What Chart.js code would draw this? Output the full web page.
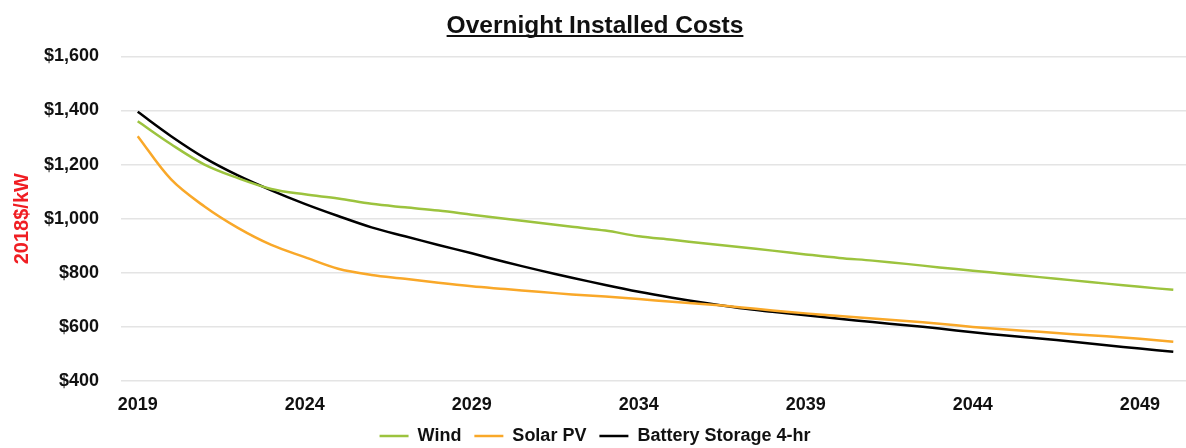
<!DOCTYPE html>
<html>
<head>
<meta charset="utf-8">
<title>Overnight Installed Costs</title>
<script src="https://cdn.jsdelivr.net/npm/chart.js@4.4.1/dist/chart.umd.min.js"></script>
<style>
  html, body { margin: 0; padding: 0; background: #fff; overflow: hidden; }
  #wrap { position: relative; width: 1190px; height: 455px; }
</style>
</head>
<body>
<div id="wrap"><canvas id="costs"></canvas></div>
<script>
// Years on the category axis
const years = [];
for (let y = 2019; y <= 2050; y++) years.push(String(y));

// Series values, 2018$/kW
const wind = [1360, 1275, 1200, 1150, 1110, 1090, 1075, 1055, 1042, 1030,
  1015, 1000, 985, 970, 956, 935, 922, 908, 895, 882,
  868, 855, 845, 833, 820, 808, 796, 784, 772, 760, 748, 737];
const solarPV = [1305, 1145, 1045, 966, 903, 858, 815, 792, 778, 763,
  750, 740, 730, 720, 712, 703, 693, 684, 673, 661,
  650, 640, 631, 622, 612, 600, 590, 582, 573, 565, 556, 545];
const battery = [1395, 1305, 1225, 1160, 1105, 1055, 1010, 968, 935, 903,
  872, 840, 810, 782, 755, 730, 708, 688, 670, 656,
  643, 630, 618, 606, 594, 580, 568, 557, 545, 532, 520, 508];

// Y axis ticks
const yTicks = [400, 600, 800, 1000, 1200, 1400, 1600];

const FONT = '"Liberation Sans", Arial, sans-serif';

// Draws the underline below the chart title
const titleUnderline = {
  id: 'titleUnderline',
  afterDraw(chart) {
    const tb = chart.titleBlock;
    if (!tb) return;
    const ctx = chart.ctx;
    const opts = chart.options.plugins.title;
    ctx.save();
    ctx.font = `bold ${opts.font.size}px ${FONT}`;
    const w = ctx.measureText(opts.text).width;
    const cx = (tb.left + tb.right) / 2;
    ctx.strokeStyle = '#111';
    ctx.lineWidth = 2;
    ctx.beginPath();
    ctx.moveTo(cx - w / 2, 36);
    ctx.lineTo(cx + w / 2, 36);
    ctx.stroke();
    ctx.restore();
  }
};

const makeSeries = (label, data, color) => ({
  label,
  data,
  borderColor: color,
  backgroundColor: color,
  borderWidth: 2.5,
  pointRadius: 0,
  tension: 0.35,
  fill: false
});

new Chart(document.getElementById('costs'), {
  type: 'line',
  data: {
    labels: years,
    datasets: [
      makeSeries('Wind', wind, '#9cc33e'),
      makeSeries('Solar PV', solarPV, '#f9a829'),
      makeSeries('Battery Storage 4-hr', battery, '#000000')
    ]
  },
  options: {
    responsive: true,
    maintainAspectRatio: false,
    animation: false,
    layout: { padding: 0 },
    plugins: {
      title: {
        display: true,
        text: 'Overnight Installed Costs',
        color: '#111',
        font: { family: FONT, size: 24.5, weight: 'bold' },
        padding: { top: 12, bottom: 15 }
      },
      legend: {
        position: 'bottom',
        labels: {
          usePointStyle: true,
          pointStyle: 'line',
          pointStyleWidth: 29,
          boxHeight: 18,
          padding: 13,
          color: '#111',
          font: { family: FONT, size: 18, weight: 'bold' }
        }
      },
      tooltip: { enabled: false }
    },
    scales: {
      x: {
        type: 'category',
        offset: true,
        grid: { display: false },
        border: { display: false },
        ticks: {
          autoSkip: false,
          maxRotation: 0,
          padding: 5,
          color: '#111',
          font: { family: FONT, size: 18, weight: 'bold' },
          callback(value, index) {
            return index % 5 === 0 ? years[index] : '';
          }
        },
        afterFit(scale) { scale.height = 33; }
      },
      y: {
        min: yTicks[0],
        max: yTicks[yTicks.length - 1],
        afterBuildTicks(scale) {
          scale.ticks = yTicks.map(v => ({ value: v }));
        },
        grid: { color: '#e4e4e4', lineWidth: 1.5, drawTicks: false },
        border: { display: false },
        ticks: {
          padding: 22,
          color: '#111',
          font: { family: FONT, size: 18, weight: 'bold' },
          callback(value) { return '$' + value.toLocaleString('en-US'); }
        },
        title: {
          display: true,
          text: '2018$/kW',
          color: '#f01e23',
          font: { family: FONT, size: 20, weight: 'bold' },
          padding: { top: 10, bottom: 0 }
        },
        afterFit(scale) { scale.width = 121; }
      }
    }
  },
  plugins: [titleUnderline]
});
</script>
</body>
</html>
